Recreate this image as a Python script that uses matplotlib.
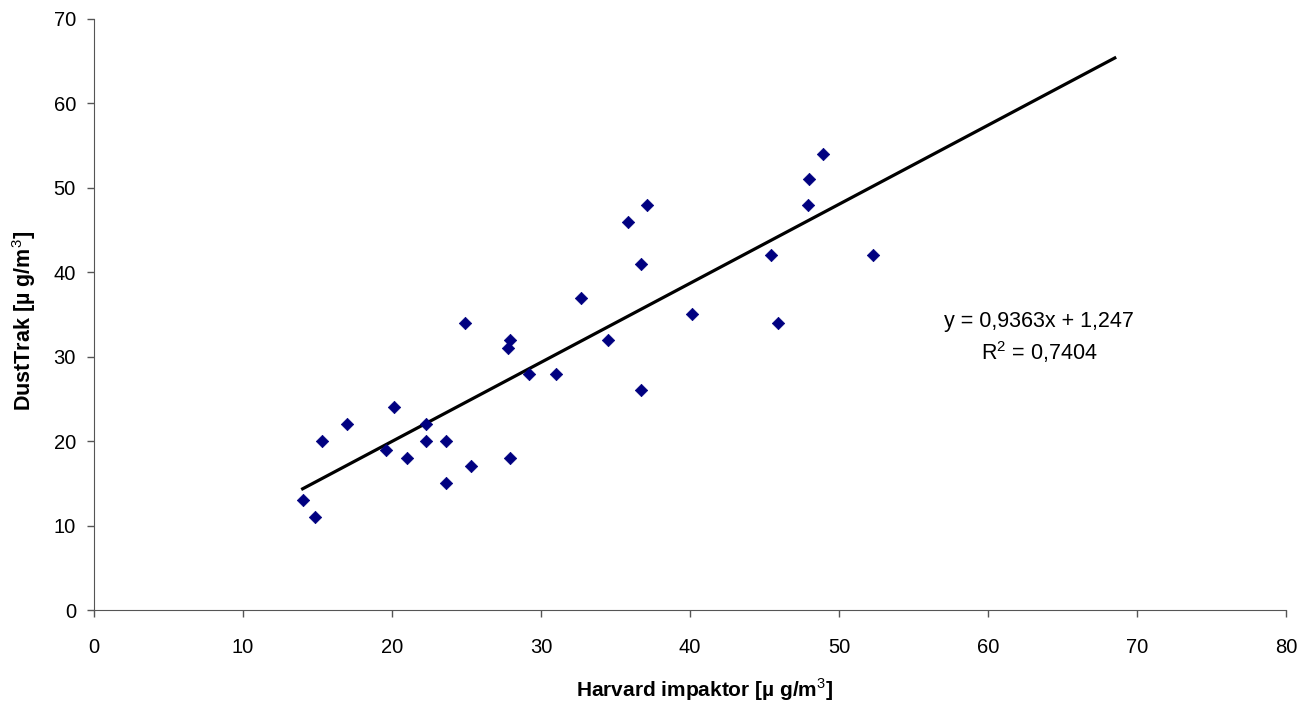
import numpy as np
import matplotlib
matplotlib.use("Agg")
import matplotlib.pyplot as plt

plt.rcParams['font.family'] = ['Liberation Sans', 'DejaVu Sans']
plt.rcParams['mathtext.fontset'] = 'custom'
plt.rcParams['mathtext.rm'] = 'Liberation Sans'
plt.rcParams['mathtext.bf'] = 'Liberation Sans:bold'

# Harvard impaktor vs DustTrak (µg/m3)
harvard = [14.0, 14.8, 15.3, 17.0, 19.6, 20.1, 21.0, 22.3, 22.3, 23.6,
           23.6, 24.9, 25.3, 27.9, 27.8, 27.9, 29.2, 31.0, 32.7, 34.5,
           35.8, 36.7, 36.7, 37.1, 40.1, 45.4, 45.9, 47.9, 48.0, 48.9,
           52.3]
dusttrak = [13, 11, 20, 22, 19, 24, 18, 22, 20, 20,
            15, 34, 17, 32, 31, 18, 28, 28, 37, 32,
            46, 41, 26, 48, 35, 42, 34, 48, 51, 54,
            42]

# trendline from Excel
slope = 0.9363
intercept = 1.247
r2 = 0.7404
trend_end = 68.5   # forward forecast

fig = plt.figure(figsize=(13.06, 7.08), dpi=100)
ax = fig.add_axes([0.072, 0.1384, 0.9128, 0.8348])

ax.scatter(harvard, dusttrak, marker='D', s=40, color='#000080',
           edgecolors='#000080', linewidths=0.5, zorder=3)

xs = np.array([min(harvard), trend_end])
ax.plot(xs, slope * xs + intercept, color='black', linewidth=2.3, zorder=2)

# trendline label
ax.text(63.4, 34.2, 'y = 0,9363x + 1,247', ha='center', va='center',
        fontsize=15.5)
ax.text(63.4, 30.5, r'R$^2$ = 0,7404', ha='center', va='center',
        fontsize=15.5)

ax.set_xlim(0, 80)
ax.set_ylim(0, 70)
ax.set_xticks(range(0, 81, 10))
ax.set_yticks(range(0, 71, 10))
ax.tick_params(direction='out', length=5, width=1, colors='#555555',
               labelcolor='black', labelsize=14.5)
ax.tick_params(axis='x', pad=15)
ax.tick_params(axis='y', pad=8)

for side in ['top', 'right']:
    ax.spines[side].set_visible(False)
for side in ['left', 'bottom']:
    ax.spines[side].set_color('#555555')

ax.set_xlabel(r'Harvard impaktor [µ g/m$^3$]', fontsize=15, fontweight='bold')
ax.set_ylabel(r'DustTrak [µ g/m$^3$]', fontsize=15.5, fontweight='bold')
ax.xaxis.set_label_coords(0.5126, -0.112)
ax.yaxis.set_label_coords(-0.047, 0.489)

fig.savefig('out.png', dpi=100)
